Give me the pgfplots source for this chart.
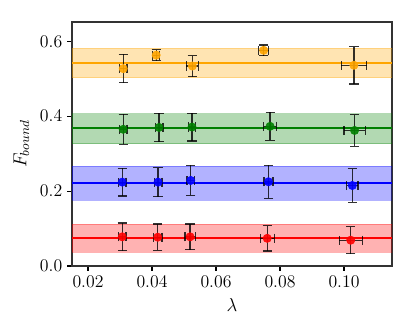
\RequirePackage{fix-cm}
\documentclass[border=0pt]{standalone}
\usepackage{pgfplots}
\pgfplotsset{compat=1.18}
\usetikzlibrary{calc}
\definecolor{mplorange}{HTML}{FFA500}
\definecolor{mplgreen}{HTML}{008000}
\definecolor{mplblue}{HTML}{0000FF}
\definecolor{mplred}{HTML}{FF0000}
\begin{document}
\begin{tikzpicture}
\begin{axis}[
  scale only axis,
  width=230.4pt, height=175.7pt,
  xmin=0.015, xmax=0.115, ymin=0, ymax=0.6515,
  xtick={0.02,0.04,0.06,0.08,0.10},
  ytick={0,0.2,0.4,0.6},
  xticklabel style={/pgf/number format/.cd,fixed,fixed zerofill,precision=2},
  yticklabel style={/pgf/number format/.cd,fixed,fixed zerofill,precision=1},
  scaled x ticks=false, scaled y ticks=false,
  tick align=outside, major tick length=3.5pt,
  tick style={black, line width=0.8pt},
  xtick pos=bottom, ytick pos=left,
  axis line style={black!80, line width=0.8pt},
  tick label style={font=\fontsize{12.8}{15}\selectfont},
  label style={font=\fontsize{13.5}{16}\selectfont},
  xlabel={$\lambda$}, ylabel={$F_{bound}$},
  xlabel style={yshift=-1pt},
  ylabel style={yshift=1pt},
  clip=true,
]
% bands
\addplot[draw=mplorange, draw opacity=0.3, fill=mplorange, fill opacity=0.3] coordinates {(0.015,0.503) (0.115,0.503) (0.115,0.581) (0.015,0.581)} -- cycle;
\addplot[draw=mplgreen, draw opacity=0.3, fill=mplgreen, fill opacity=0.3] coordinates {(0.015,0.327) (0.115,0.327) (0.115,0.407) (0.015,0.407)} -- cycle;
\addplot[draw=mplblue, draw opacity=0.3, fill=mplblue, fill opacity=0.3] coordinates {(0.015,0.175) (0.115,0.175) (0.115,0.2675) (0.015,0.2675)} -- cycle;
\addplot[draw=mplred, draw opacity=0.3, fill=mplred, fill opacity=0.3] coordinates {(0.015,0.038) (0.115,0.038) (0.115,0.111) (0.015,0.111)} -- cycle;
% mean lines
\addplot[mplorange, line width=1.5pt] coordinates {(0.015,0.542) (0.115,0.542)};
\addplot[mplgreen, line width=1.5pt] coordinates {(0.015,0.368) (0.115,0.368)};
\addplot[mplblue, line width=1.5pt] coordinates {(0.015,0.222) (0.115,0.222)};
\addplot[mplred, line width=1.5pt] coordinates {(0.015,0.074) (0.115,0.074)};
% points with error bars
\pgfplotsset{ptstyle/.style={only marks, mark=*, mark size=3pt, #1,
  mark options={draw=#1, fill=#1, opacity=0.9},
  error bars/.cd, x dir=both, x explicit, y dir=both, y explicit,
  error bar style={black, line width=0.9pt, opacity=0.8},
  error mark options={rotate=90, black, line width=0.9pt, mark size=3.3pt, opacity=0.8}}}
\addplot[ptstyle=mplorange] coordinates {
  (0.0310,0.527) +- (0.0012,0.038)
  (0.0413,0.563) +- (0.0011,0.015)
  (0.0526,0.534) +- (0.0019,0.028)
  (0.0749,0.576) +- (0.0016,0.014)
  (0.1031,0.536) +- (0.0040,0.050)};
\addplot[ptstyle=mplgreen] coordinates {
  (0.0310,0.365) +- (0.0012,0.040)
  (0.0422,0.370) +- (0.0012,0.038)
  (0.0525,0.371) +- (0.0012,0.037)
  (0.0769,0.373) +- (0.0020,0.037)
  (0.1033,0.362) +- (0.0033,0.042)};
\addplot[ptstyle=mplblue] coordinates {
  (0.0307,0.224) +- (0.0012,0.037)
  (0.0419,0.224) +- (0.0012,0.039)
  (0.0521,0.2285) +- (0.0012,0.040)
  (0.0764,0.225) +- (0.0014,0.044)
  (0.1026,0.215) +- (0.0018,0.045)};
\addplot[ptstyle=mplred] coordinates {
  (0.0307,0.078) +- (0.0012,0.037)
  (0.0418,0.077) +- (0.0013,0.035)
  (0.0519,0.078) +- (0.0016,0.034)
  (0.0760,0.074) +- (0.0022,0.034)
  (0.1021,0.069) +- (0.0036,0.036)};
\end{axis}
\pgfresetboundingbox
\path[use as bounding box] ($(current axis.south west)+(-51.84pt,-47.52pt)$) rectangle ($(current axis.north east)+(16.56pt,15.84pt)$);
\end{tikzpicture}
\end{document}
